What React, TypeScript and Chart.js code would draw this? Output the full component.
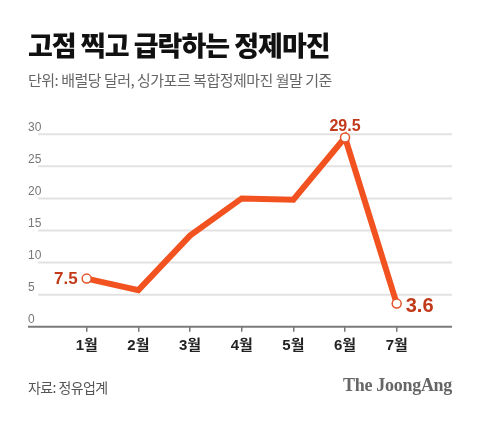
import React, { useEffect, useRef } from "react";
import { Chart, registerables } from "chart.js";

Chart.register(...registerables);

const months = ["1월", "2월", "3월", "4월", "5월", "6월", "7월"];
const margins = [7.5, 5.7, 14.2, 20.0, 19.8, 29.5, 3.6];
const yTicks = [0, 5, 10, 15, 20, 25, 30];
const labeledIdx = [0, 5, 6];

const FONT = "'Noto Sans CJK KR', 'Noto Sans', sans-serif";
const NUMFONT = "'Liberation Sans', 'Noto Sans CJK KR', sans-serif";
const LINE = "#f2521f";
const LABEL = "#c23a1a";

const decorPlugin = {
  id: "decor",
  beforeDatasetsDraw(chart: any) {
    const ctx = chart.ctx;
    const y = chart.scales.y;
    ctx.save();
    yTicks.forEach((v) => {
      const py = y.getPixelForValue(v);
      if (v !== 0) {
        ctx.strokeStyle = "#e2e2e2";
        ctx.lineWidth = 2;
        ctx.beginPath();
        ctx.moveTo(38, py);
        ctx.lineTo(452, py);
        ctx.stroke();
      } else {
        ctx.strokeStyle = "#7a7a7a";
        ctx.lineWidth = 2;
        ctx.beginPath();
        ctx.moveTo(28, py);
        ctx.lineTo(452, py);
        ctx.stroke();
      }
      ctx.fillStyle = "#777";
      ctx.font = `12px ${NUMFONT}`;
      ctx.textAlign = "left";
      ctx.textBaseline = "middle";
      ctx.fillText(String(v), 28, py - 7);
    });
    ctx.restore();
  },
  afterDatasetsDraw(chart: any) {
    const ctx = chart.ctx;
    const meta = chart.getDatasetMeta(0);
    ctx.save();
    ctx.fillStyle = LABEL;
    ctx.textBaseline = "middle";
    labeledIdx.forEach((i) => {
      const el = meta.data[i];
      const txt = String(margins[i]);
      if (i === 0) {
        ctx.font = `bold 17px ${NUMFONT}`;
        ctx.textAlign = "right";
        ctx.fillText(txt, el.x - 9, el.y + 1);
      } else if (i === margins.length - 1) {
        ctx.font = `bold 20px ${NUMFONT}`;
        ctx.textAlign = "left";
        ctx.fillText(txt, el.x + 9, el.y + 3);
      } else {
        ctx.font = `bold 16px ${NUMFONT}`;
        ctx.textAlign = "center";
        ctx.fillText(txt, el.x, el.y - 11);
      }
    });
    ctx.restore();
  },
};

export default function App() {
  const ref = useRef<HTMLCanvasElement>(null);
  useEffect(() => {
    document.body.style.margin = "0";
    const chart = new Chart(ref.current!, {
      type: "line",
      data: {
        labels: months,
        datasets: [
          {
            data: margins,
            borderColor: LINE,
            borderWidth: 6,
            borderJoinStyle: "miter",
            tension: 0,
            clip: false as any,
            pointRadius: margins.map((_, i) => (labeledIdx.includes(i) ? 4.5 : 0)),
            pointBackgroundColor: "#fff",
            pointBorderColor: "#e4542a",
            pointBorderWidth: 1.5,
          },
        ],
      },
      options: {
        responsive: false,
        animation: false,
        layout: { padding: { left: 86.7, right: 83.3, top: 134.3, bottom: 60.3 } },
        plugins: { legend: { display: false }, tooltip: { enabled: false }, title: { display: false } },
        scales: {
          x: {
            type: "category",
            offset: false,
            grid: {
              display: true,
              drawOnChartArea: false,
              drawTicks: true,
              tickLength: 5,
              color: "#777",
              lineWidth: 1.5,
            },
            border: { display: false },
            ticks: {
              font: { size: 15, weight: "bold", family: NUMFONT },
              color: "#222",
              padding: 5,
              maxRotation: 0,
              autoSkip: false,
            },
            afterFit: (s: any) => {
              s.height = 40;
            },
          },
          y: { display: false, min: 0, max: 30 },
        },
      },
      plugins: [decorPlugin],
    });
    return () => chart.destroy();
  }, []);

  return (
    <div style={{ position: "relative", width: 480, height: 427, background: "#fff", fontFamily: FONT }}>
      <canvas ref={ref} width={480} height={427} style={{ position: "absolute", left: 0, top: 0 }} />
      <div
        style={{
          position: "absolute",
          left: 28,
          top: 26,
          fontSize: 27,
          fontWeight: 900,
          letterSpacing: -1,
          color: "#111",
          whiteSpace: "nowrap",
          lineHeight: "38px",
        }}
      >
        고점 찍고 급락하는 정제마진
      </div>
      <div
        style={{
          position: "absolute",
          left: 28,
          top: 70,
          fontSize: 15,
          letterSpacing: -0.5,
          color: "#666",
          whiteSpace: "nowrap",
          lineHeight: "20px",
        }}
      >
        단위: 배럴당 달러, 싱가포르 복합정제마진 월말 기준
      </div>
      <div
        style={{
          position: "absolute",
          left: 28,
          top: 377,
          fontSize: 14,
          letterSpacing: -0.6,
          color: "#555",
          whiteSpace: "nowrap",
          lineHeight: "20px",
        }}
      >
        자료: 정유업계
      </div>
      <div
        style={{
          position: "absolute",
          right: 28,
          top: 374,
          fontSize: 18,
          fontWeight: "bold",
          fontFamily: "'Liberation Serif', 'DejaVu Serif', serif",
          color: "#666",
          whiteSpace: "nowrap",
          lineHeight: "22px",
          letterSpacing: -0.3,
        }}
      >
        The JoongAng
      </div>
    </div>
  );
}
